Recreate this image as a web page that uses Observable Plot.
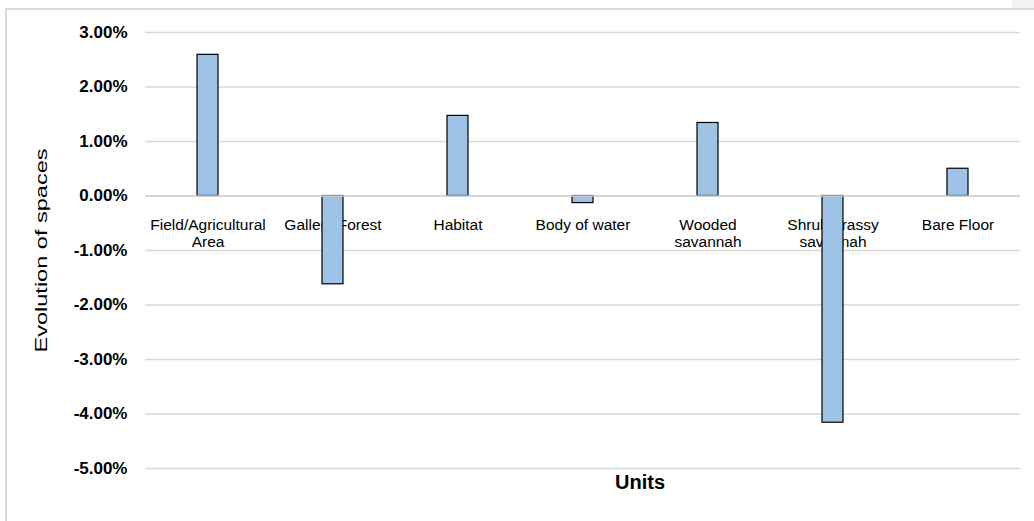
<!DOCTYPE html>
<html>
<head>
<meta charset="utf-8">
<script src="https://cdn.jsdelivr.net/npm/d3@7"></script>
<script src="https://cdn.jsdelivr.net/npm/@observablehq/plot@0.6"></script>
<style>
  html, body { margin: 0; padding: 0; background: #fff; overflow: hidden; }
  #wrap { position: relative; width: 1034px; height: 521px; overflow: hidden; font-family: "Liberation Sans", Arial, sans-serif; }
  #frame { position: absolute; left: 5px; top: 8px; width: 1100px; height: 600px; border-top: 2px solid #d9d9d9; border-left: 2px solid #d9d9d9; }
  #corner { position: absolute; left: 1012px; top: 0; width: 22px; height: 8px; background: #f2f2f2; }
  #chart { position: absolute; left: 0; top: 0; }
</style>
</head>
<body>
<div id="wrap">
  <div id="frame"></div>
  <div id="corner"></div>
  <div id="chart"></div>
</div>
<script>
const categories = ["Field/Agricultural Area", "Gallery Forest", "Habitat", "Body of water", "Wooded savannah", "Shrub/grassy savannah", "Bare Floor"];
const labelLines = ["Field/Agricultural\nArea", "Gallery Forest", "Habitat", "Body of water", "Wooded\nsavannah", "Shrub/grassy\nsavannah", "Bare Floor"];
const values = [0.0259, -0.0162, 0.0147, -0.0013, 0.0134, -0.0416, 0.0050];
const yTicks = [-0.05, -0.04, -0.03, -0.02, -0.01, 0, 0.01, 0.02, 0.03];
const yTitle = "Evolution of spaces";
const xTitle = "Units";

const data = categories.map((c, i) => ({category: c, label: labelLines[i], value: values[i]}));
const pct = d3.formatLocale({decimal: ".", thousands: ",", grouping: [3], currency: ["", ""], minus: "-"}).format(".2%");

const plot = Plot.plot({
  width: 1034,
  height: 521,
  marginLeft: 145,
  marginRight: 14,
  marginTop: 32,
  marginBottom: 53,
  style: {fontFamily: '"Liberation Sans", Arial, sans-serif', background: "transparent", overflow: "visible"},
  x: {domain: categories, paddingInner: 0.836, paddingOuter: 0.418, axis: null},
  y: {domain: [-0.05, 0.03], ticks: yTicks, tickFormat: pct},
  marks: [
    Plot.ruleY(yTicks, {stroke: "#d9d9d9", strokeWidth: 1.5}),
    Plot.axisY({ticks: yTicks, tickFormat: pct, tickSize: 0, tickPadding: 18, label: null, fontSize: 17, fontWeight: "bold", fill: "#000"}),
    Plot.text(data, {x: "category", y: () => 0, text: "label", lineAnchor: "top", dy: 22, lineHeight: 1.1, fontSize: 15.5, fill: "#000"}),
    Plot.barY(data, {x: "category", y1: () => 0, y2: "value", fill: "#9dc3e6", stroke: "#000", strokeWidth: 1.2}),
    Plot.ruleY([0], {stroke: "#d0d0d0", strokeWidth: 1.5}),
    Plot.text([yTitle], {frameAnchor: "left", dx: -104, dy: 102, rotate: -90, textAnchor: "start", text: d => d, fontSize: 16.5, fontWeight: "normal", fill: "#000"}),
    Plot.text([xTitle], {frameAnchor: "bottom", dx: 57, dy: 20, text: d => d, fontSize: 20, fontWeight: "bold", fill: "#000"})
  ]
});

d3.select(plot).selectAll("text").filter(function() { return this.textContent === yTitle; })
  .attr("textLength", 204).attr("lengthAdjust", "spacingAndGlyphs");

document.getElementById("chart").appendChild(plot);
</script>
</body>
</html>
